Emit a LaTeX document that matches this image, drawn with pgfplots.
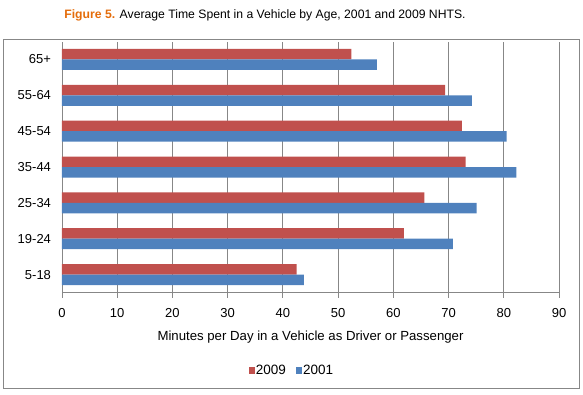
\documentclass[border=0pt]{standalone}
\usepackage{pgfplots}
\pgfplotsset{compat=1.18}
\usepackage{fontspec}
\setmainfont{Liberation Sans}
\definecolor{barred}{HTML}{C0504D}
\definecolor{barblue}{HTML}{4F81BD}
\definecolor{titleorange}{HTML}{E46C0A}
\definecolor{gridgray}{HTML}{878787}
\begin{document}
\begin{tikzpicture}[x=1pt,y=1pt]
\useasboundingbox (0,0) rectangle (583,394);
\draw[gridgray, line width=0.9pt] (3.8,5.7) rectangle (579.5,354.7);
\node[font=\fontsize{12.2}{14}\selectfont, inner sep=0pt] at (265,378.5) {\textcolor{titleorange}{\textbf{Figure 5.}} Average Time Spent in a Vehicle by Age, 2001 and 2009 NHTS.};
\begin{axis}[
  at={(62pt,101.5pt)}, anchor=south west,
  scale only axis, width=497pt, height=251pt,
  xbar, bar width=10.5pt,
  xmin=0, xmax=90, ymin=-0.5, ymax=6.5,
  xtick={0,10,...,90},
  ytick={0,...,6},
  yticklabels={5-18,19-24,25-34,35-44,45-54,55-64,65+},
  minor ytick={-0.5,0.5,1.5,2.5,3.5,4.5,5.5,6.5},
  axis lines=left,
  axis line style={-, gridgray, line width=0.8pt},
  tick align=outside,
  major tick length=5pt, minor tick length=5pt,
  ytick style={draw=none},
  minor y tick style={gridgray, line width=0.8pt},
  xtick style={gridgray, line width=0.8pt},
  xmajorgrids, major x grid style={gridgray, line width=0.8pt},
  /pgf/number format/assume math mode=true,
  tick label style={font=\fontsize{13}{15}\selectfont},
  xticklabel style={yshift=-7pt},
  yticklabel style={xshift=-2.5pt},
  xlabel={Minutes per Day in a Vehicle as Driver or Passenger},
  xlabel style={at={(axis description cs:0.5,-0.177)}, anchor=center, font=\fontsize{13.2}{15}\selectfont},
  legend style={at={(0.4625,-0.311)}, anchor=center, draw=none, legend columns=2,
    font=\fontsize{13.5}{15}\selectfont, inner sep=0pt,
    /tikz/every even column/.append style={column sep=8pt},
    /tikz/every odd column/.append style={column sep=-1.2pt}},
  legend image code/.code={\fill[#1] (0pt,-3.3pt) rectangle (6.5pt,3.3pt);},
]
\addplot[fill=barred, draw=none, bar shift=5.25pt] coordinates {
 (42.5,0) (61.9,1) (65.6,2) (73.1,3) (72.4,4) (69.4,5) (52.4,6)};
\addlegendentry{2009}
\addplot[fill=barblue, draw=none, bar shift=-5.25pt] coordinates {
 (43.8,0) (70.8,1) (75.1,2) (82.3,3) (80.5,4) (74.2,5) (57.0,6)};
\addlegendentry{2001}
\end{axis}
\end{tikzpicture}
\end{document}
